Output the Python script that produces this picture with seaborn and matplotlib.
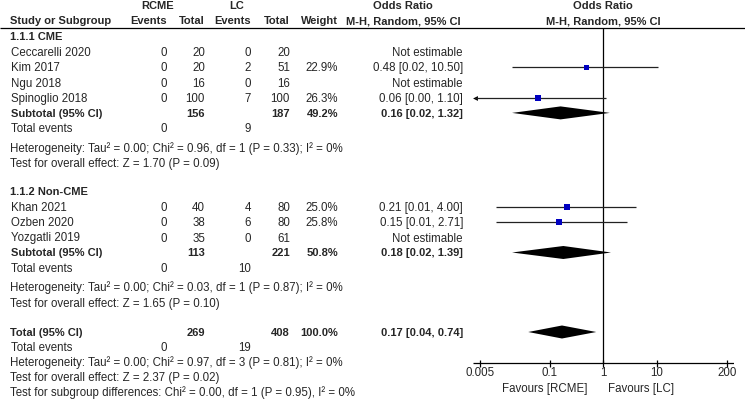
import numpy as np
import pandas as pd
import seaborn as sns
import matplotlib.pyplot as plt

# ---- data ----
group_names = ["1.1.1 CME", "1.1.2 Non-CME"]

g1_studies = ["Ceccarelli 2020", "Kim 2017", "Ngu 2018", "Spinoglio 2018"]
g1_rcme_events = [0, 0, 0, 0]
g1_rcme_total = [20, 20, 16, 100]
g1_lc_events = [0, 2, 0, 7]
g1_lc_total = [20, 51, 16, 100]
g1_weight = [np.nan, 22.9, np.nan, 26.3]
g1_or = [np.nan, 0.48, np.nan, 0.06]
g1_lo = [np.nan, 0.02, np.nan, 0.00]
g1_hi = [np.nan, 10.50, np.nan, 1.10]

g2_studies = ["Khan 2021", "Ozben 2020", "Yozgatli 2019"]
g2_rcme_events = [0, 0, 0]
g2_rcme_total = [40, 38, 35]
g2_lc_events = [4, 6, 0]
g2_lc_total = [80, 80, 61]
g2_weight = [25.0, 25.8, np.nan]
g2_or = [0.21, 0.15, np.nan]
g2_lo = [0.01, 0.01, np.nan]
g2_hi = [4.00, 2.71, np.nan]

# subtotals: group 1, group 2, overall
sub_rcme_total = [156, 113, 269]
sub_lc_total = [187, 221, 408]
sub_weight = [49.2, 50.8, 100.0]
sub_or = [0.16, 0.18, 0.17]
sub_lo = [0.02, 0.02, 0.04]
sub_hi = [1.32, 1.39, 0.74]
sub_rcme_events = [0, 0, 0]
sub_lc_events = [9, 10, 19]

heterogeneity = [
    "Heterogeneity: Tau² = 0.00; Chi² = 0.96, df = 1 (P = 0.33); I² = 0%",
    "Heterogeneity: Tau² = 0.00; Chi² = 0.03, df = 1 (P = 0.87); I² = 0%",
    "Heterogeneity: Tau² = 0.00; Chi² = 0.97, df = 3 (P = 0.81); I² = 0%",
]
overall_effect = [
    "Test for overall effect: Z = 1.70 (P = 0.09)",
    "Test for overall effect: Z = 1.65 (P = 0.10)",
    "Test for overall effect: Z = 2.37 (P = 0.02)",
]
subgroup_diff = "Test for subgroup differences: Chi² = 0.00, df = 1 (P = 0.95), I² = 0%"

tick_values = [0.005, 0.1, 1, 10, 200]
tick_labels = ["0.005", "0.1", "1", "10", "200"]

groups = [
    dict(studies=g1_studies, re=g1_rcme_events, rt=g1_rcme_total, le=g1_lc_events,
         lt=g1_lc_total, w=g1_weight, est=g1_or, lo=g1_lo, hi=g1_hi),
    dict(studies=g2_studies, re=g2_rcme_events, rt=g2_rcme_total, le=g2_lc_events,
         lt=g2_lc_total, w=g2_weight, est=g2_or, lo=g2_lo, hi=g2_hi),
]

# ---- style ----
sns.set_style("white")
plt.rcParams['font.family'] = ['Liberation Sans', 'DejaVu Sans']
FS_REG, FS_BOLD = 8.3, 8

W, H = 745, 403
fig = plt.figure(figsize=(W / 100, H / 100), dpi=100)
ax = fig.add_axes([0, 0, 1, 1])
ax.set_xlim(0, W)
ax.set_ylim(H, 0)
ax.set_axis_off()

# forest panel on a log scale, placed in pixel space
PX_ONE, PX_DEC = 603.3, 53.7
left_px, right_px = 473, 734
fx = fig.add_axes([left_px / W, 0, (right_px - left_px) / W, 1])
fx.set_xscale('log')
xmin = 10 ** ((left_px - PX_ONE) / PX_DEC)
xmax = 10 ** ((right_px - PX_ONE) / PX_DEC)
fx.set_xlim(xmin, xmax)
fx.set_ylim(H, 0)
fx.set_axis_off()
fx.patch.set_alpha(0)

# column anchors (pixels)
X_NAME, X_E1, X_T1, X_E2, X_T2, X_W, X_OR = 11, 167, 205, 251, 290, 338, 463
X_RCME, X_LC, X_ORHEAD, X_PLOTHEAD = 158, 237, 403, 603


def txt(x, y, s, ha='left', bold=False):
    ax.text(x, y + 4, s, ha=ha, va='baseline',
            fontweight='bold' if bold else 'normal',
            fontsize=FS_BOLD if bold else FS_REG)


def or_label(e, lo, hi):
    return f"{e:.2f} [{lo:.2f}, {hi:.2f}]"


# header
txt(X_RCME, 5, "RCME", 'center', True)
txt(X_LC, 5, "LC", 'center', True)
txt(X_ORHEAD, 5, "Odds Ratio", 'center', True)
txt(X_PLOTHEAD, 5, "Odds Ratio", 'center', True)
txt(X_NAME - 1, 20, "Study or Subgroup", 'left', True)
txt(X_E1, 20, "Events", 'right', True)
txt(X_T1, 20, "Total", 'right', True)
txt(X_E2, 20, "Events", 'right', True)
txt(X_T2, 20, "Total", 'right', True)
txt(X_W, 20, "Weight", 'right', True)
txt(X_ORHEAD, 20, "M-H, Random, 95% CI", 'center', True)
txt(X_PLOTHEAD, 20, "M-H, Random, 95% CI", 'center', True)
ax.hlines(28, 0, W, color='black', lw=0.9)

study_rows = []
diamonds = []
y = 36
for gi, g in enumerate(groups):
    txt(X_NAME - 1, y, group_names[gi], 'left', True)
    y += 16
    for i, name in enumerate(g['studies']):
        txt(X_NAME, y, name)
        txt(X_E1, y, str(g['re'][i]), 'right')
        txt(X_T1, y, str(g['rt'][i]), 'right')
        txt(X_E2, y, str(g['le'][i]), 'right')
        txt(X_T2, y, str(g['lt'][i]), 'right')
        if np.isnan(g['est'][i]):
            txt(X_OR, y, "Not estimable", 'right')
        else:
            txt(X_W, y, f"{g['w'][i]:.1f}%", 'right')
            txt(X_OR, y, or_label(g['est'][i], g['lo'][i], g['hi'][i]), 'right')
            study_rows.append(dict(est=g['est'][i], lo=g['lo'][i], hi=g['hi'][i],
                                   weight=g['w'][i], ypos=y))
        y += 15.3
    y += 15 - 15.3
    txt(X_NAME, y, "Subtotal (95% CI)", 'left', True)
    txt(X_T1, y, str(sub_rcme_total[gi]), 'right', True)
    txt(X_T2, y, str(sub_lc_total[gi]), 'right', True)
    txt(X_W, y, f"{sub_weight[gi]:.1f}%", 'right', True)
    txt(X_OR, y, or_label(sub_or[gi], sub_lo[gi], sub_hi[gi]), 'right', True)
    diamonds.append((sub_or[gi], sub_lo[gi], sub_hi[gi], y))
    y += 15.5
    txt(X_NAME, y, "Total events")
    txt(X_E1, y, str(sub_rcme_events[gi]), 'right')
    txt(X_E2, y, str(sub_lc_events[gi]), 'right')
    y += 19.5
    txt(X_NAME - 1, y, heterogeneity[gi])
    y += 15
    txt(X_NAME - 1, y, overall_effect[gi])
    y += 28

# overall
y += 1.5
txt(X_NAME - 1, y, "Total (95% CI)", 'left', True)
txt(X_T1, y, str(sub_rcme_total[2]), 'right', True)
txt(X_T2, y, str(sub_lc_total[2]), 'right', True)
txt(X_W, y, f"{sub_weight[2]:.1f}%", 'right', True)
txt(X_OR, y, or_label(sub_or[2], sub_lo[2], sub_hi[2]), 'right', True)
diamonds.append((sub_or[2], sub_lo[2], sub_hi[2], y))
y += 15
txt(X_NAME, y, "Total events")
txt(X_E1, y, str(sub_rcme_events[2]), 'right')
txt(X_E2, y, str(sub_lc_events[2]), 'right')
y += 15
txt(X_NAME - 1, y, heterogeneity[2])
y += 15
txt(X_NAME - 1, y, overall_effect[2])
y += 15
txt(X_NAME - 1, y, subgroup_diff)

# ---- forest marks ----
AXIS_Y = 363
fx.vlines(1, 28, AXIS_Y, color='black', lw=0.9)

df = pd.DataFrame(study_rows)
for _, r in df.iterrows():
    lo = r['lo']
    if lo < xmin:
        lo = xmin * 10 ** (2 / PX_DEC)
        fx.plot(lo, r['ypos'], marker='<', ms=3.5, color='black', mew=0)
    fx.hlines(r['ypos'], lo, r['hi'], color='#222222', lw=0.9)

sns.scatterplot(data=df, x='est', y='ypos', size='weight', sizes=(12, 17),
                size_norm=(22.9, 26.3), marker='s', color='#0000C0',
                linewidth=0, legend=False, ax=fx, zorder=3)

for est, lo, hi, yy in diamonds:
    fx.fill([lo, est, hi, est], [yy, yy - 6.5, yy, yy + 6.5],
            color='black', lw=0, zorder=3)

# bottom axis
fx.hlines(AXIS_Y, xmin, xmax, color='black', lw=0.9)
fx.vlines(tick_values, AXIS_Y - 3.5, AXIS_Y + 3.5, color='black', lw=0.9)
for v, lab in zip(tick_values, tick_labels):
    fx.text(v, AXIS_Y + 13, lab, ha='center', va='baseline', fontsize=FS_REG)
ax.text(588, 392, "Favours [RCME]", ha='right', va='baseline', fontsize=FS_REG)
ax.text(608, 392, "Favours [LC]", ha='left', va='baseline', fontsize=FS_REG)

fx.set_xlabel('')
fx.set_ylabel('')
fig.savefig("out.png", dpi=100)
